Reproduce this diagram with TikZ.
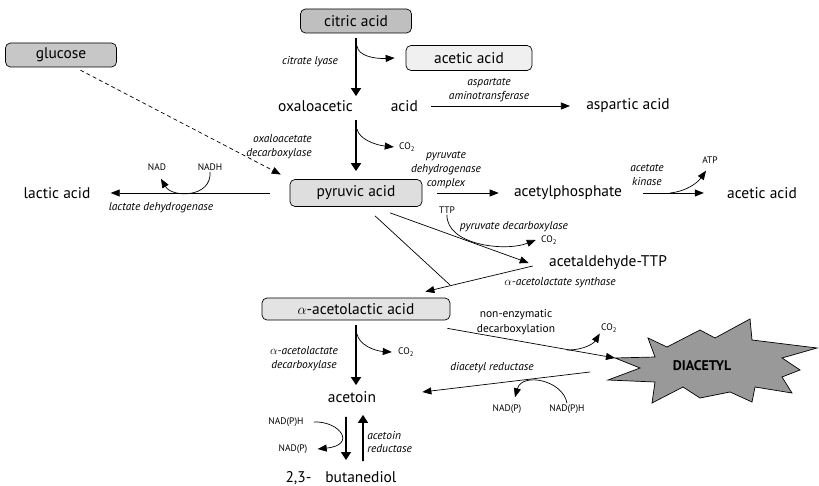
\documentclass[tikz,border=0pt]{standalone}
\usepackage{fontspec}
\setmainfont{PT Sans}
\usetikzlibrary{arrows.meta}

\begin{document}
\begin{tikzpicture}[x=1bp,y=-1bp,line width=0.7bp,>={Triangle[length=9bp,width=7bp]}]
  \tikzstyle{box}=[draw,rounded corners=5bp,line width=0.7bp,inner sep=0pt,minimum height=24bp,font=\fontsize{15.5}{18}\selectfont]
  \tikzstyle{metab}=[inner sep=2bp,font=\fontsize{15.5}{18}\selectfont]
  \tikzstyle{enzyme}=[inner sep=1bp,align=center,font=\fontsize{11.5}{13.8}\selectfont\itshape]
  \tikzstyle{cofactor}=[inner sep=1bp,font=\fontsize{9.5}{10}\selectfont]
  \tikzstyle{main}=[->,line width=1.6bp,>={Triangle[length=8bp,width=10bp]}]
  \tikzstyle{side}=[->]
  \useasboundingbox (0,0) rectangle (819,486);

  % metabolites
  \node[box,fill=black!25,minimum width=111bp] (citric) at (356,21) {citric acid};
  \node[box,fill=black!6,minimum width=126bp,minimum height=25bp] (acetic1) at (469,58) {acetic acid};
  \node[box,fill=black!22,minimum width=111bp] (glucose) at (61,55) {glucose};
  \node[metab] (oxalo) at (348,106) {oxaloacetic\hspace{38bp}acid};
  \node[metab] (aspartic) at (628,106) {aspartic acid};
  \node[box,fill=black!13,minimum width=132bp,minimum height=27bp] (pyruvic) at (356,193) {pyruvic acid};
  \node[metab] (lactic) at (57,193) {lactic acid};
  \node[metab] (acetylp) at (568,193) {acetylphosphate};
  \node[metab] (acetic2) at (762,193) {acetic acid};
  \node[metab] (acetald) at (608,263) {acetaldehyde-TTP};
  \node[box,fill=black!11,minimum width=188bp,minimum height=22bp] (acetolac) at (356,309) {$\alpha$-acetolactic acid};
  \node[metab] (acetoin) at (352,397) {acetoin};
  \node[metab] (butanediol) at (341,478) {2,3-\hspace{14bp}butanediol};

  % diacetyl
  \draw[fill=black!40] (615,358) -- (655,357) -- (648,338) -- (667,347) -- (700,330) -- (715,338)
    -- (750,319) -- (752,340) -- (817,348) -- (782,358) -- (800,370) -- (782,377) -- (792,393)
    -- (755,387) -- (752,402) -- (730,392) -- (700,398) -- (683,387) -- (652,403) -- (655,382)
    -- (608,380) -- (640,368) -- cycle;
  \node[font=\fontsize{14}{16}\selectfont\bfseries] (diacetyl) at (702,366) {DIACETYL};
  \coordinate (dtip) at (615,358);
  \coordinate (dleft) at (590,372);

  % cofactors
  \node[cofactor] (nad1) at (157,167) {NAD};
  \node[cofactor] (nadh1) at (210,167) {NADH};
  \node[cofactor] (co2a) at (407,147) {CO\textsubscript{2}};
  \node[cofactor] (ttp) at (447,210) {TTP};
  \node[cofactor] (co2b) at (549,240) {CO\textsubscript{2}};
  \node[cofactor] (atp) at (710,160) {ATP};
  \node[cofactor] (co2c) at (609,328) {CO\textsubscript{2}};
  \node[cofactor] (co2d) at (406,352) {CO\textsubscript{2}};
  \node[cofactor] (nadp1) at (507,409) {NAD(P)};
  \node[cofactor] (nadph1) at (567,409) {NAD(P)H};
  \node[cofactor] (nadph2) at (286,422) {NAD(P)H};
  \node[cofactor] (nadp2) at (293,449) {NAD(P)};

  % enzymes
  \node[enzyme] (citlyase) at (310,62) {citrate lyase};
  \node[enzyme] (aspat) at (489,90) {aspartate\\aminotransferase};
  \node[enzyme,anchor=east,align=right] (oxdc) at (313,147) {oxaloacetate\\decarboxylase};
  \node[enzyme] (ldh) at (161,208) {lactate dehydrogenase};
  \node[enzyme] (pdh) at (446,170) {pyruvate\\dehydrogenase\\complex};
  \node[enzyme] (pdc) at (514,227) {pyruvate decarboxylase};
  \node[enzyme] (ack) at (647,175) {acetate\\kinase};
  \node[enzyme] (als) at (560,283) {$\alpha$-acetolactate synthase};
  \node[enzyme,font=\fontsize{11.5}{14.5}\selectfont] (nonenz) at (516,322) {non-enzymatic\\decarboxylation};
  \node[enzyme] (aldc) at (304,359) {$\alpha$-acetolactate\\decarboxylase};
  \node[enzyme] (dar) at (492,368) {diacetyl reductase};
  \node[enzyme,anchor=west,align=left] (acr) at (366,442) {acetoin\\reductase};

  % branch points
  \coordinate (brcit) at (357,46);
  \coordinate (broxa) at (357,129);
  \coordinate (bratp) at (670,193);
  \coordinate (brnon) at (567,350);
  \coordinate (braldc) at (357,334);
  \coordinate (join) at (450,285);

  % reactions
  \draw[main,shorten <=5bp,shorten >=2bp] (citric.south) -- (citric.south |- oxalo.north);
  \draw[side] (brcit) .. controls (358,56) and (375,59) .. ([xshift=-11bp]acetic1.west);
  \draw[side,shorten <=11bp,shorten >=14bp] (oxalo.east) -- (aspartic.west);
  \draw[main,shorten <=6bp,shorten >=8bp] (citric.south |- oxalo.south) -- (citric.south |- pyruvic.north);
  \draw[side] (broxa) .. controls (359,139) and (375,145) .. ([xshift=-4bp]co2a.west);
  \draw[side,dashed,dash pattern=on 4bp off 3bp,shorten <=6bp,shorten >=10bp] ([xshift=14bp]glucose.south) -- (pyruvic.north west);
  \draw[side,shorten <=20bp,shorten >=18bp] (pyruvic.west) -- (lactic.east);
  \draw[side] (nadh1.south) .. controls (212,198) and (172,198) .. ([shift={(4bp,-7bp)}]nad1.south);
  \draw[side,shorten <=15bp,shorten >=13bp] (pyruvic.east) -- (acetylp.west);
  \draw[side,shorten <=19bp,shorten >=21bp] (acetylp.east) -- (acetic2.west);
  \draw[side] (bratp) .. controls (688,191) and (698,182) .. ([shift={(-4bp,-6bp)}]atp.south);
  \draw[side] ([shift={(34bp,-6bp)}]pyruvic.south) -- ([xshift=-18bp]acetald.west);
  \draw ([shift={(19bp,-9bp)}]pyruvic.south) -- (join);
  \draw[side] ([shift={(-14bp,-3bp)}]acetald.west) -- ([shift={(-25bp,6bp)}]acetolac.north east);
  \draw[side] (ttp.south) .. controls (446,245) and (505,252) .. ([xshift=-4bp]co2b.west);
  \draw[side] ([shift={(-3bp,-8bp)}]acetolac.south east) -- (dtip);
  \draw[side] (brnon) .. controls (585,350) and (594,343) .. (co2c.south west);
  \draw[main,shorten <=5bp,shorten >=4bp] (acetolac.south) -- (acetolac.south |- acetoin.north);
  \draw[side] (braldc) .. controls (359,345) and (375,351) .. ([xshift=-5bp]co2d.west);
  \draw[side] (dleft) -- ([shift={(44bp,5bp)}]acetoin.east);
  \draw[side] (nadph1.north) .. controls (563,380) and (522,372) .. ([shift={(8bp,6bp)}]nadp1.north);
  \draw[main] ([xshift=-6bp,yshift=-12bp]acetoin.south) -- ([xshift=5bp,yshift=9bp]butanediol.north);
  \draw[main] ([xshift=22bp,yshift=8bp]butanediol.north) -- ([xshift=11bp,yshift=-10bp]acetoin.south);
  \draw[side] ([xshift=9bp]nadph2.east) .. controls (340,421) and (357,445) .. ([xshift=9bp]nadp2.east);
\end{tikzpicture}
\end{document}
